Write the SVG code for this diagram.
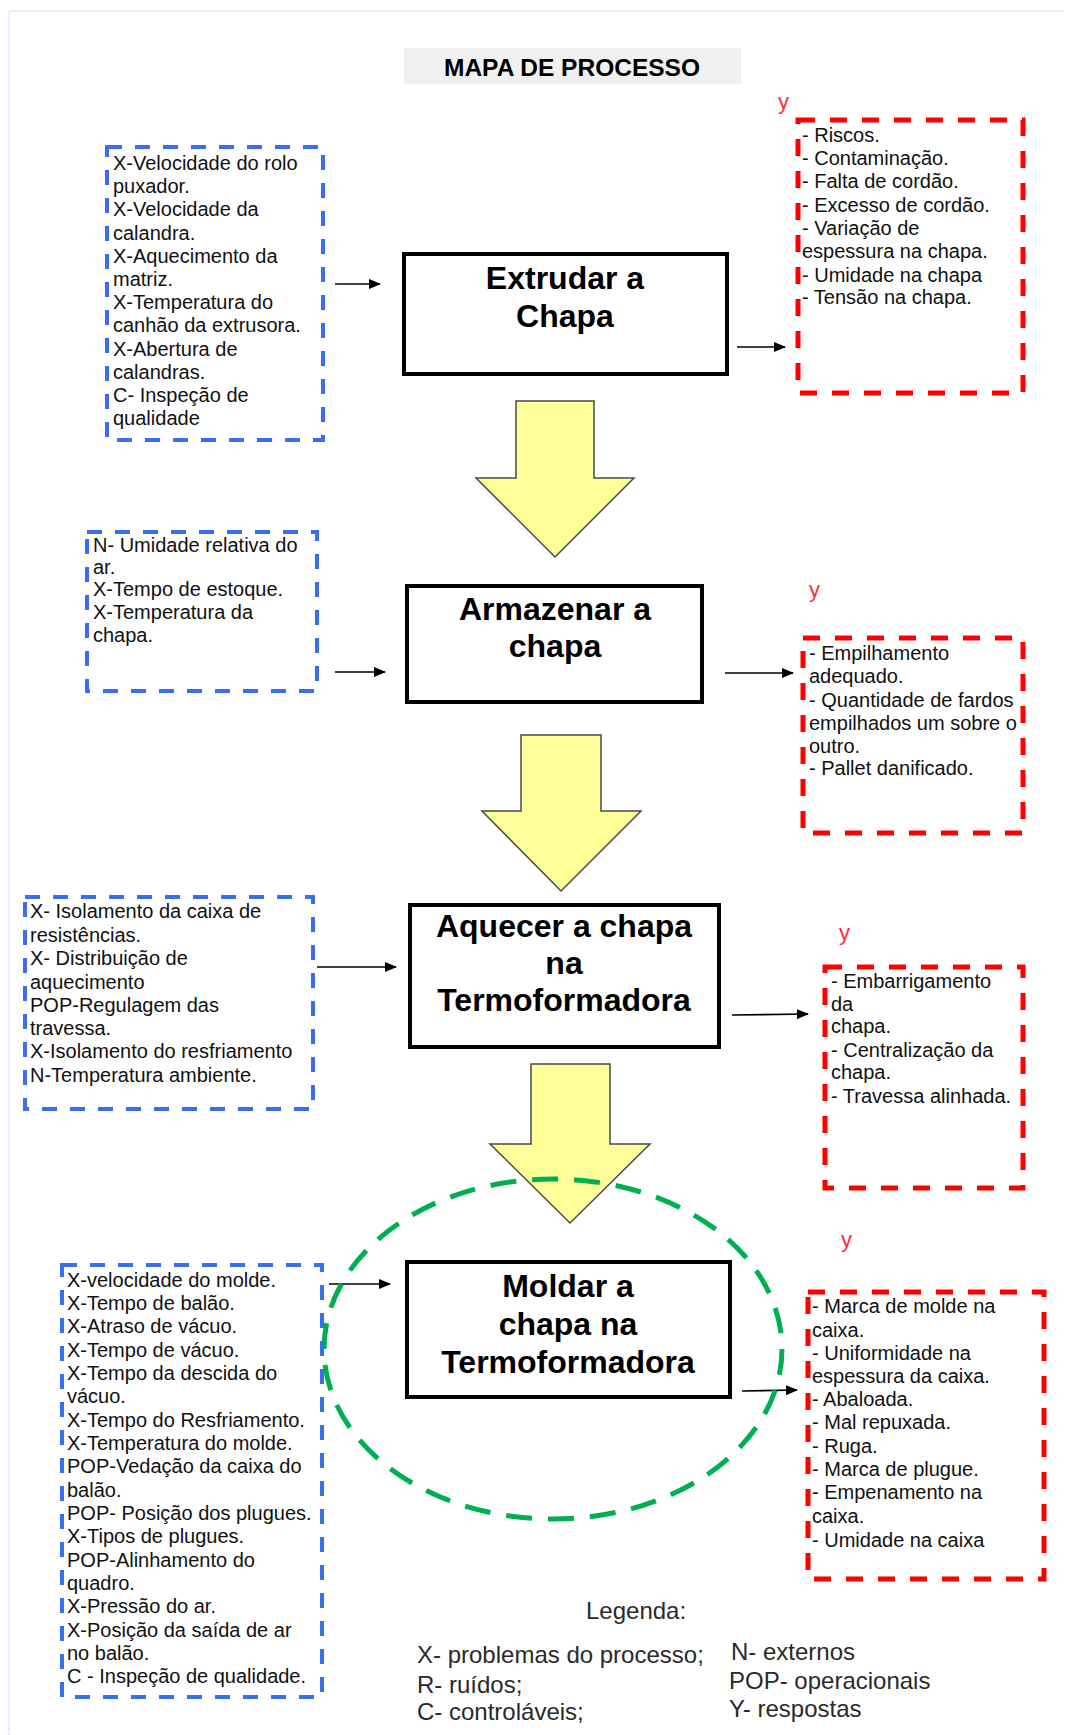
<svg xmlns="http://www.w3.org/2000/svg" width="1065" height="1735" viewBox="0 0 1065 1735">
<style>
.t{font-family:"Liberation Sans",Arial,sans-serif;font-size:20px;fill:#111}
.p{font-family:"Liberation Sans",Arial,sans-serif;font-size:32px;font-weight:bold;fill:#000;text-anchor:middle}
.yl{font-family:"Liberation Sans",Arial,sans-serif;font-size:22px;fill:#ff2a3a}
.lg{font-family:"Liberation Sans",Arial,sans-serif;font-size:24px;fill:#2a2a2a}
.blue{fill:none;stroke:#3a6ef0;stroke-width:4;stroke-dasharray:15 13}
.red{fill:none;stroke:#ff0000;stroke-width:5;stroke-dasharray:17 15}
.proc{fill:#fff;stroke:#000;stroke-width:4}
.big{fill:#ffff99;stroke:#4a4a4a;stroke-width:1.5}
.con{stroke:#000;stroke-width:1.6;fill:none;marker-end:url(#ah)}
</style>
<defs>
<marker id="ah" markerWidth="12" markerHeight="10" refX="11" refY="5" orient="auto" markerUnits="userSpaceOnUse">
<path d="M0,0 L12,5 L0,10 z" fill="#000"/>
</marker>
</defs>
<rect x="0" y="0" width="1065" height="1735" fill="#fff"/>
<rect x="9" y="11" width="1100" height="1800" fill="none" stroke="#a8c8ec" stroke-width="1" stroke-dasharray="1 1"/>

<g id="title">
<rect x="404" y="48" width="337" height="36" fill="#f0f0f0"/>
<text x="572" y="76" text-anchor="middle" font-family="Liberation Sans, Arial, sans-serif" font-size="23" font-weight="bold" fill="#000" textLength="256" lengthAdjust="spacingAndGlyphs">MAPA DE PROCESSO</text>
</g>

<g id="flow-arrows">
<polygon class="big" points="516,401 594,401 594,478 634,478 555,557 476,478 516,478"/>
<polygon class="big" points="521,735 601,735 601,811 641,811 561,891 482,811 521,811"/>
<polygon class="big" points="531,1064 610,1064 610,1144 650,1144 570,1223 490,1144 531,1144"/>
</g>

<g id="connectors">
<line class="con" x1="335" y1="284" x2="380" y2="284"/>
<line class="con" x1="737" y1="347" x2="785" y2="347"/>
<line class="con" x1="335" y1="672" x2="385" y2="672"/>
<line class="con" x1="725" y1="673" x2="793" y2="673"/>
<line class="con" x1="317" y1="967" x2="396" y2="967"/>
<line class="con" x1="732" y1="1015" x2="808" y2="1014"/>
<line class="con" x1="329" y1="1284" x2="390" y2="1284"/>
<line class="con" x1="742" y1="1391" x2="797" y2="1390"/>
</g>

<g id="step1">
<rect class="proc" x="404" y="254" width="323" height="120"/>
<text class="p" x="565" y="289">Extrudar a</text>
<text class="p" x="565" y="327">Chapa</text>
</g>
<g id="step2">
<rect class="proc" x="407" y="586" width="295" height="116"/>
<text class="p" x="555" y="620">Armazenar a</text>
<text class="p" x="555" y="657">chapa</text>
</g>
<g id="step3">
<rect class="proc" x="410" y="905" width="309" height="142"/>
<text class="p" x="564" y="937">Aquecer a chapa</text>
<text class="p" x="564" y="974">na</text>
<text class="p" x="564" y="1011">Termoformadora</text>
</g>
<g id="step4">
<rect class="proc" x="407" y="1262" width="323" height="135"/>
<text class="p" x="568" y="1297">Moldar a</text>
<text class="p" x="568" y="1335">chapa na</text>
<text class="p" x="568" y="1373">Termoformadora</text>
</g>

<g id="highlight">
<ellipse cx="553" cy="1349" rx="229" ry="170" fill="none" stroke="#00b050" stroke-width="5" stroke-dasharray="26 16"/>
</g>

<g id="inputs1">
<rect class="blue" x="107" y="147" width="216" height="293"/>
<text class="t" x="113" y="170">X-Velocidade do rolo</text>
<text class="t" x="113" y="193">puxador.</text>
<text class="t" x="113" y="216">X-Velocidade da</text>
<text class="t" x="113" y="240">calandra.</text>
<text class="t" x="113" y="263">X-Aquecimento  da</text>
<text class="t" x="113" y="286">matriz.</text>
<text class="t" x="113" y="309">X-Temperatura  do</text>
<text class="t" x="113" y="332">canhão da extrusora.</text>
<text class="t" x="113" y="356">X-Abertura de</text>
<text class="t" x="113" y="379">calandras.</text>
<text class="t" x="113" y="402">C- Inspeção de</text>
<text class="t" x="113" y="425">qualidade</text>
</g>

<g id="outputs1">
<text class="yl" x="778" y="109">y</text>
<rect class="red" x="798" y="120" width="225" height="273"/>
<text class="t" x="802" y="142">- Riscos.</text>
<text class="t" x="802" y="165">- Contaminação.</text>
<text class="t" x="802" y="188">- Falta de cordão.</text>
<text class="t" x="802" y="212">- Excesso de cordão.</text>
<text class="t" x="802" y="235">- Variação de</text>
<text class="t" x="802" y="258">espessura na chapa.</text>
<text class="t" x="802" y="282">- Umidade na chapa</text>
<text class="t" x="802" y="304">- Tensão na chapa.</text>
</g>

<g id="inputs2">
<rect class="blue" x="87" y="532" width="230" height="159"/>
<text class="t" x="93" y="552">N- Umidade relativa do</text>
<text class="t" x="93" y="574">ar.</text>
<text class="t" x="93" y="596">X-Tempo de estoque.</text>
<text class="t" x="93" y="619">X-Temperatura  da</text>
<text class="t" x="93" y="642">chapa.</text>
</g>

<g id="outputs2">
<text class="yl" x="809" y="597">y</text>
<rect class="red" x="803" y="638" width="220" height="195"/>
<text class="t" x="809" y="660">- Empilhamento</text>
<text class="t" x="809" y="683">adequado.</text>
<text class="t" x="809" y="707">- Quantidade  de fardos</text>
<text class="t" x="809" y="730">empilhados um sobre o</text>
<text class="t" x="809" y="753">outro.</text>
<text class="t" x="809" y="775">- Pallet danificado.</text>
</g>

<g id="inputs3">
<rect class="blue" x="25" y="897" width="288" height="212"/>
<text class="t" x="30" y="918">X- Isolamento da caixa de</text>
<text class="t" x="30" y="942">resistências.</text>
<text class="t" x="30" y="965">X- Distribuição de</text>
<text class="t" x="30" y="989">aquecimento</text>
<text class="t" x="30" y="1012">POP-Regulagem das</text>
<text class="t" x="30" y="1035">travessa.</text>
<text class="t" x="30" y="1058">X-Isolamento do resfriamento</text>
<text class="t" x="30" y="1082">N-Temperatura  ambiente.</text>
</g>

<g id="outputs3">
<text class="yl" x="839" y="940">y</text>
<rect class="red" x="825" y="967" width="198" height="221"/>
<text class="t" x="831" y="988">- Embarrigamento</text>
<text class="t" x="831" y="1011">da</text>
<text class="t" x="831" y="1033">chapa.</text>
<text class="t" x="831" y="1057">- Centralização  da</text>
<text class="t" x="831" y="1079">chapa.</text>
<text class="t" x="831" y="1103">- Travessa  alinhada.</text>
</g>

<g id="inputs4">
<rect class="blue" x="62" y="1265" width="260" height="432"/>
<text class="t" x="67" y="1287">X-velocidade do molde.</text>
<text class="t" x="67" y="1310">X-Tempo de balão.</text>
<text class="t" x="67" y="1333">X-Atraso de vácuo.</text>
<text class="t" x="67" y="1357">X-Tempo de vácuo.</text>
<text class="t" x="67" y="1380">X-Tempo da descida do</text>
<text class="t" x="67" y="1403">vácuo.</text>
<text class="t" x="67" y="1427">X-Tempo do Resfriamento.</text>
<text class="t" x="67" y="1450">X-Temperatura  do molde.</text>
<text class="t" x="67" y="1473">POP-Vedação da caixa do</text>
<text class="t" x="67" y="1497">balão.</text>
<text class="t" x="67" y="1520">POP- Posição dos plugues.</text>
<text class="t" x="67" y="1543">X-Tipos de plugues.</text>
<text class="t" x="67" y="1567">POP-Alinhamento do</text>
<text class="t" x="67" y="1590">quadro.</text>
<text class="t" x="67" y="1613">X-Pressão do ar.</text>
<text class="t" x="67" y="1637">X-Posição da saída de ar</text>
<text class="t" x="67" y="1660">no balão.</text>
<text class="t" x="67" y="1683">C - Inspeção de  qualidade.</text>
</g>

<g id="outputs4">
<text class="yl" x="841" y="1247">y</text>
<rect class="red" x="808" y="1292" width="236" height="287"/>
<text class="t" x="812" y="1313">- Marca  de molde na</text>
<text class="t" x="812" y="1337">caixa.</text>
<text class="t" x="812" y="1360">- Uniformidade na</text>
<text class="t" x="812" y="1383">espessura da caixa.</text>
<text class="t" x="812" y="1406">- Abaloada.</text>
<text class="t" x="812" y="1429">- Mal repuxada.</text>
<text class="t" x="812" y="1453">- Ruga.</text>
<text class="t" x="812" y="1476">- Marca  de plugue.</text>
<text class="t" x="812" y="1499">- Empenamento  na</text>
<text class="t" x="812" y="1523">caixa.</text>
<text class="t" x="812" y="1547">- Umidade na  caixa</text>
</g>

<g id="legend">
<text class="lg" x="586" y="1619">Legenda:</text>
<text class="lg" x="417" y="1663">X- problemas do processo;</text>
<text class="lg" x="417" y="1693">R- ruídos;</text>
<text class="lg" x="417" y="1720">C- controláveis;</text>
<text class="lg" x="731" y="1660">N- externos</text>
<text class="lg" x="729" y="1689">POP- operacionais</text>
<text class="lg" x="729" y="1717">Y- respostas</text>
</g>
</svg>
